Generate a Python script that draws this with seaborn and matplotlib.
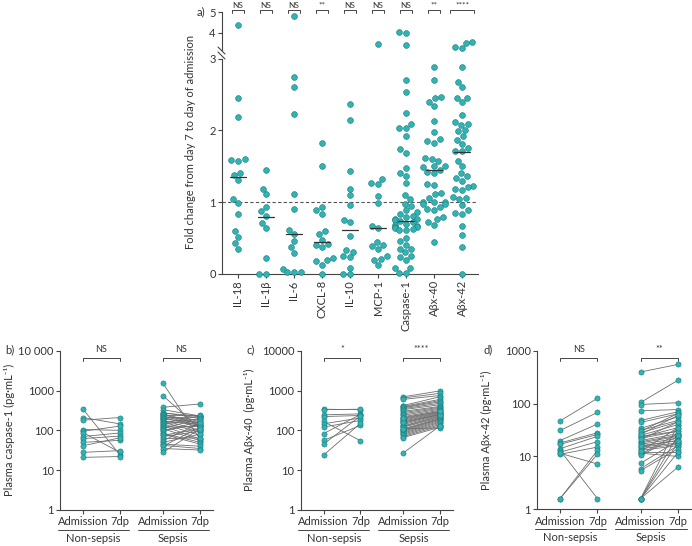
import matplotlib
matplotlib.use("Agg")
import numpy as np
import pandas as pd
import seaborn as sns
import matplotlib.pyplot as plt
from matplotlib.transforms import blended_transform_factory

# ---- panel a: fold change day 7 / admission ----
markers = ['IL-18', 'IL-1β', 'IL-6', 'CXCL-8', 'IL-10', 'MCP-1', 'Caspase-1', 'Aβx-40', 'Aβx-42']
fold_il18 = [4.39, 2.45, 2.19, 1.59, 1.58, 1.60, 1.41, 1.38, 1.31, 1.05, 0.99, 0.83, 0.60, 0.52, 0.43, 0.35]
fold_il1b = [1.45, 1.19, 1.11, 0.94, 0.875, 0.81, 0.71, 0.64, 0.22, 0.0, 0.0]
fold_il6 = [4.83, 2.74, 2.60, 2.23, 1.12, 0.91, 0.62, 0.56, 0.46, 0.37, 0.29, 0.07, 0.03, 0.03, 0.03]
fold_cxcl8 = [1.83, 1.50, 0.94, 0.89, 0.84, 0.60, 0.56, 0.48, 0.42, 0.41, 0.37, 0.22, 0.19, 0.18, 0.13, 0.0]
fold_il10 = [2.37, 2.14, 1.44, 1.19, 1.10, 0.96, 0.75, 0.72, 0.53, 0.33, 0.31, 0.25, 0.23, 0.09, 0.0, 0.0]
fold_mcp1 = [3.42, 1.33, 1.27, 1.26, 1.08, 0.99, 0.67, 0.64, 0.45, 0.41, 0.39, 0.35, 0.25, 0.21, 0.20, 0.13]
fold_casp1 = [4.03, 3.97, 3.38, 2.71, 2.53, 2.24, 2.09, 2.04, 2.03, 1.92, 1.74, 1.69, 1.48, 1.41, 1.37,
              1.27, 1.10, 1.04, 0.98, 0.95, 0.89, 0.87, 0.84, 0.81, 0.79, 0.77, 0.76, 0.75, 0.74, 0.72,
              0.70, 0.68, 0.67, 0.66, 0.65, 0.64, 0.63, 0.62, 0.61, 0.50, 0.46, 0.41, 0.35, 0.35, 0.30,
              0.25, 0.24, 0.19, 0.09, 0.08, 0.02, 0.01]
fold_ab40 = [2.88, 2.70, 2.47, 2.45, 2.40, 2.34, 2.13, 1.98, 1.88, 1.85, 1.83, 1.61, 1.60, 1.57, 1.51,
             1.50, 1.49, 1.45, 1.42, 1.41, 1.25, 1.24, 1.13, 1.11, 1.06, 1.01, 1.00, 1.00, 0.97, 0.97,
             0.94, 0.90, 0.89, 0.79, 0.76, 0.73, 0.68, 0.45]
fold_ab42 = [3.53, 3.50, 3.31, 3.24, 2.89, 2.67, 2.60, 2.45, 2.45, 2.39, 2.22, 2.12, 2.09, 2.08, 2.01,
             1.99, 1.92, 1.87, 1.81, 1.76, 1.71, 1.71, 1.57, 1.50, 1.41, 1.36, 1.34, 1.30, 1.22, 1.21,
             1.19, 1.17, 1.07, 1.06, 1.04, 0.96, 0.89, 0.85, 0.84, 0.67, 0.54, 0.38, 0.0]
fold_medians = [1.35, 0.79, 0.56, 0.44, 0.62, 0.64, 0.74, 1.45, 1.70]
fold_sig = ['NS', 'NS', 'NS', '**', 'NS', 'NS', 'NS', '**', '****']

# ---- panels b-d: paired plasma levels (admission, 7dp) ----
casp_ns_adm = [340, 210, 180, 105, 95, 88, 70, 62, 50, 41, 28, 21]
casp_ns_7dp = [24, 145, 210, 100, 128, 28, 86, 72, 56, 65, 31, 22]
casp_sep_adm = [1520, 740, 380, 330, 280, 270, 260, 250, 240, 230, 220, 210, 200, 190, 180, 170, 160, 150, 145,
                140, 130, 120, 115, 110, 100, 95, 85, 80, 75, 70, 62, 55, 50, 45, 42, 40, 35, 28]
casp_sep_7dp = [60, 110, 460, 230, 200, 230, 150, 140, 240, 130, 180, 120, 220, 160, 100, 140, 90, 230, 75,
                200, 60, 125, 190, 55, 140, 170, 50, 45, 110, 95, 65, 150, 80, 40, 35, 120, 32, 110]

ab40_ns_adm = [340, 330, 245, 222, 167, 146, 121, 83, 56, 45, 24]
ab40_ns_7dp = [330, 340, 259, 236, 55, 205, 177, 250, 133, 230, 150]
ab40_sep_adm = [695, 650, 600, 420, 400, 380, 370, 350, 330, 300, 280, 260, 240, 220, 200, 190, 180, 170, 160,
                150, 140, 130, 125, 120, 110, 105, 100, 95, 90, 85, 80, 75, 70, 66, 110, 160, 210, 27]
ab40_sep_7dp = [980, 850, 750, 700, 600, 560, 520, 480, 440, 400, 380, 360, 340, 320, 300, 290, 280, 270, 260,
                250, 240, 230, 220, 210, 200, 195, 190, 180, 170, 160, 150, 140, 130, 120, 115, 250, 300, 130]

ab42_ns_adm = [47, 31, 20, 18, 17, 14, 13, 12, 11, 11.5, 1.6, 1.6]
ab42_ns_7dp = [126, 68, 41, 28, 26, 24, 1.6, 19, 15, 7.2, 13, 11]
ab42_sep_adm = [396, 105, 96, 73, 48, 44, 34, 31, 28, 25, 23, 22, 20, 19, 18, 17, 16, 15, 14, 13,
                12, 11.5, 11, 10.5, 7.4, 5.9, 5.4, 1.6, 1.6, 1.6, 1.6, 1.6, 30, 24, 21, 15.5, 12.5, 26]
ab42_sep_7dp = [550, 276, 104, 77, 70, 64, 56, 48, 45, 40, 35, 30, 27, 25, 24, 22, 20, 18, 17, 16,
                12, 10, 27, 24, 20, 16, 14, 6.3, 12, 18, 25, 40, 65, 30, 45, 20, 35, 60]

time_labels = ['Admission', '7dp', 'Admission', '7dp']
group_labels = ['Non-sepsis', 'Sepsis']

TEAL = '#2fb3b3'
EDGE = '#1c7b7d'
AX = '#444444'
TXT = '#333333'
W, H = 692, 546
FS = 8

sns.set_theme(style='ticks')
plt.rcParams['font.family'] = ['Lato', 'DejaVu Sans']
plt.rcParams['axes.edgecolor'] = AX
plt.rcParams['axes.linewidth'] = 0.8
plt.rcParams['xtick.color'] = AX
plt.rcParams['ytick.color'] = AX
plt.rcParams['xtick.labelcolor'] = TXT
plt.rcParams['ytick.labelcolor'] = TXT
plt.rcParams['xtick.major.size'] = 3
plt.rcParams['ytick.major.size'] = 3
plt.rcParams['xtick.major.width'] = 0.8
plt.rcParams['ytick.major.width'] = 0.8

fig = plt.figure(figsize=(W / 100, H / 100), dpi=100)


def add_ax(left, top, right, bottom):
    return fig.add_axes([left / W, 1 - bottom / H, (right - left) / W, (bottom - top) / H])


def fy(px):
    return 1 - px / H


# ---------------- panel a ----------------
fold = pd.DataFrame({
    'marker': np.repeat(markers, [len(v) for v in [fold_il18, fold_il1b, fold_il6, fold_cxcl8, fold_il10,
                                                   fold_mcp1, fold_casp1, fold_ab40, fold_ab42]]),
    'value': fold_il18 + fold_il1b + fold_il6 + fold_cxcl8 + fold_il10 + fold_mcp1 + fold_casp1 + fold_ab40 + fold_ab42,
})

ax_lo = add_ax(222, 58.7, 478, 274)
ax_up = add_ax(222, 12.3, 478, 50)

swarm_kw = dict(x='marker', y='value', order=markers, color=TEAL, edgecolor=EDGE,
                linewidth=0.4, size=4.2, clip_on=False, zorder=4, warn_thresh=1)
sns.swarmplot(data=fold[fold['value'] <= 3.05], ax=ax_lo, **swarm_kw)
sns.swarmplot(data=fold[fold['value'] > 3.05], ax=ax_up, **swarm_kw)

for ax in (ax_lo, ax_up):
    ax.set_xlim(-0.57, 8.57)
    ax.set_xlabel('')
    ax.set_ylabel('')
    ax.spines['top'].set_visible(False)
    ax.spines['right'].set_visible(False)
    ax.tick_params(labelsize=FS, pad=1.5)

ax_lo.set_ylim(0, 3)
ax_lo.set_yticks([0, 1, 2, 3])
ax_lo.set_xticks(range(len(markers)))
ax_lo.set_xticklabels(markers, rotation=90, fontsize=FS)
ax_lo.axhline(1, color='#555555', lw=0.8, ls=(0, (3, 2)), zorder=2)
for i, m in enumerate(fold_medians):
    ax_lo.plot([i - 0.3, i + 0.3], [m, m], color='#333333', lw=0.9, zorder=5)

ax_up.set_ylim(3.15, 5)
ax_up.set_yticks([4, 5])
ax_up.spines['bottom'].set_visible(False)
ax_up.set_xticks([])

# axis break marks
for dy in (0, 5):
    fig.add_artist(plt.Line2D([218 / W, 225 / W], [fy(47 + dy), fy(54 + dy)], color=AX, lw=0.8))

# significance brackets
tr = blended_transform_factory(ax_up.transData, fig.transFigure)
for i, s in enumerate(fold_sig):
    hw = 0.43 if i == len(fold_sig) - 1 else 0.21
    ax_up.plot([i - hw, i - hw, i + hw, i + hw], [fy(12.5), fy(9.8), fy(9.8), fy(12.5)],
               color=AX, lw=0.7, transform=tr, clip_on=False)
    ax_up.text(i, fy(9.0), s, ha='center', va='bottom', fontsize=6, color=TXT, transform=tr)

fig.text(201 / W, fy(12), 'a)', fontsize=FS, color=TXT, ha='center', va='center')
fig.text(190 / W, fy(142), 'Fold change from day 7 to day of admission', rotation=90,
         fontsize=FS, color=TXT, ha='center', va='center')

# ---------------- panels b-d ----------------
X = [0, 1, 2.16, 3.16]


def paired_frame(ns_adm, ns_7dp, sep_adm, sep_7dp):
    rows = []
    for i, (a, b) in enumerate(zip(ns_adm, ns_7dp)):
        rows += [('ns%d' % i, X[0], a), ('ns%d' % i, X[1], b)]
    for i, (a, b) in enumerate(zip(sep_adm, sep_7dp)):
        rows += [('sep%d' % i, X[2], a), ('sep%d' % i, X[3], b)]
    return pd.DataFrame(rows, columns=['subject', 'x', 'value'])


panels = [
    dict(data=paired_frame(casp_ns_adm, casp_ns_7dp, casp_sep_adm, casp_sep_7dp),
         box=(60, 350.7, 213, 510), ymax=4, tl=['1', '10', '100', '1000', '10 000'],
         ylabel='Plasma caspase-1 (pg·mL⁻¹)', tag='b)', tagx=10, labx=9, sig=['NS', 'NS']),
    dict(data=paired_frame(ab40_ns_adm, ab40_ns_7dp, ab40_sep_adm, ab40_sep_7dp),
         box=(300.7, 350.7, 453, 510), ymax=4, tl=['1', '10', '100', '1000', '10000'],
         ylabel='Plasma Aβx-40  (pg·mL⁻¹)', tag='c)', tagx=251, labx=249, sig=['*', '****']),
    dict(data=paired_frame(ab42_ns_adm, ab42_ns_7dp, ab42_sep_adm, ab42_sep_7dp),
         box=(537, 350.7, 691, 509.3), ymax=3, tl=['1', '10', '100', '1000'],
         ylabel='Plasma Aβx-42 (pg·mL⁻¹)', tag='d)', tagx=488, labx=486, sig=['NS', '**']),
]

for p in panels:
    ax = add_ax(*p['box'])
    df = p['data']
    sns.lineplot(data=df, x='x', y='value', units='subject', estimator=None, color='#6e6e6e',
                 lw=0.6, ax=ax, legend=False, zorder=2)
    sns.scatterplot(data=df, x='x', y='value', color=TEAL, edgecolor=EDGE, linewidth=0.4,
                    s=14, ax=ax, legend=False, zorder=3, clip_on=False)
    ax.set_yscale('log')
    ax.set_ylim(1, 10 ** p['ymax'])
    ax.set_yticks([10 ** k for k in range(p['ymax'] + 1)])
    ax.set_yticklabels(p['tl'])
    ax.minorticks_off()
    ax.set_xlim(-0.62, 3.51)
    ax.set_xticks(X)
    ax.set_xticklabels(time_labels)
    ax.tick_params(labelsize=FS, pad=1.5)
    ax.set_xlabel('')
    ax.set_ylabel('')
    ax.spines['top'].set_visible(False)
    ax.spines['right'].set_visible(False)

    bottom = p['box'][3]
    trp = blended_transform_factory(ax.transData, fig.transFigure)
    for (a, b), s in zip([(X[0], X[1]), (X[2], X[3])], p['sig']):
        ax.plot([a, a, b, b], [fy(361), fy(357.7), fy(357.7), fy(361)], color=AX, lw=0.7,
                transform=trp, clip_on=False)
        ax.text((a + b) / 2, fy(350), s, ha='center', va='center', fontsize=6.5, color=TXT, transform=trp)
    for (a, b), g in zip([(X[0], X[1]), (X[2], X[3])], group_labels):
        ax.plot([a - 0.68, b + 0.23], [fy(bottom + 20), fy(bottom + 20)], color=AX, lw=0.7,
                transform=trp, clip_on=False)
        ax.text((a - 0.68 + b + 0.23) / 2, fy(bottom + 28.5), g, ha='center', va='center',
                fontsize=FS, color=TXT, transform=trp)

    fig.text(p['tagx'] / W, fy(350), p['tag'], fontsize=FS, color=TXT, ha='center', va='center')
    fig.text(p['labx'] / W, fy(430), p['ylabel'], rotation=90, fontsize=FS, color=TXT,
             ha='center', va='center')

fig.savefig('out.png', dpi=100)
